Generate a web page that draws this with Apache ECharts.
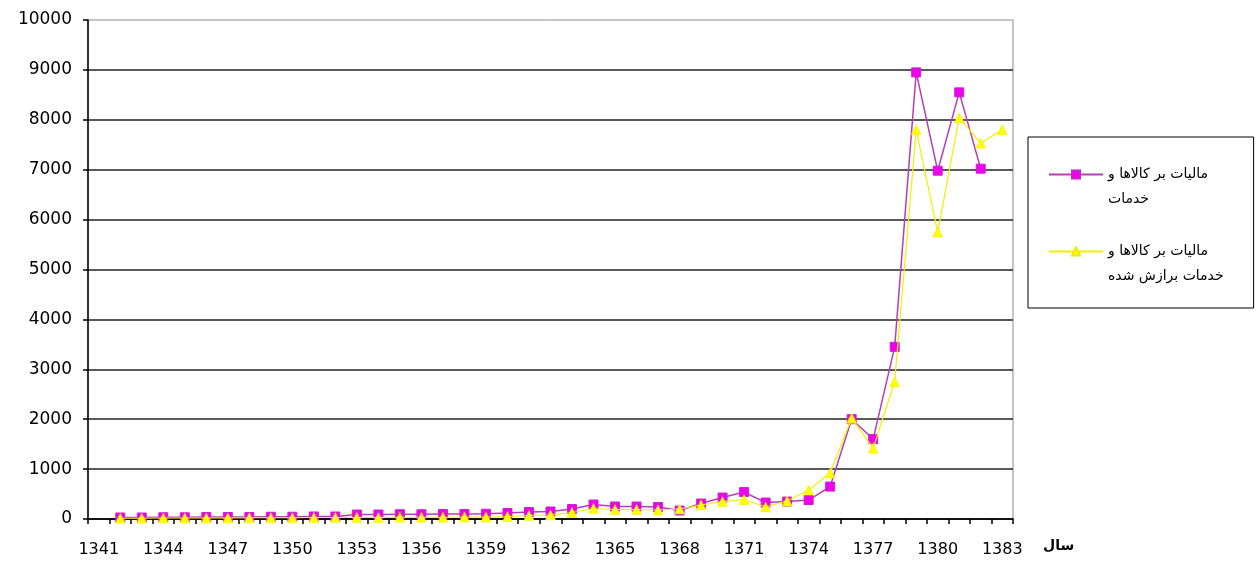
<!DOCTYPE html>
<html>
<head>
<meta charset="utf-8">
<script src="https://cdn.jsdelivr.net/npm/echarts@6/dist/echarts.min.js"></script>
<style>
  html, body { margin: 0; padding: 0; background: #fff; }
  #chart { width: 1257px; height: 561px; }
</style>
</head>
<body>
<div id="chart"></div>
<script>
// Years 1341–1383
const years = [];
for (let y = 1341; y <= 1383; y++) years.push(String(y));

const seriesNames = [
  'مالیات بر کالاها و خدمات',
  'مالیات بر کالاها و خدمات برازش شده'
];

// Goods and services tax (actual)
const taxActual = [
  null,
  30, 30, 35, 35, 40, 40, 40, 45, 45, 50, 50,
  90, 90, 95, 95, 100, 100, 105,
  120, 140, 150, 200, 290, 250, 250, 240, 170, 310,
  430, 540, 330, 350, 380, 650, 2000, 1600, 3450,
  8950, 6980, 8550, 7020, null
];

// Goods and services tax (fitted)
const taxFitted = [
  null,
  15, 15, 20, 20, 20, 20, 25, 25, 25, 30, 30,
  30, 30, 35, 35, 35, 40, 40,
  50, 70, 80, 130, 210, 190, 190, 180, 200, 280,
  350, 390, 240, 360, 580, 920, 2020, 1420, 2750,
  7800, 5750, 8040, 7530, 7800
];

const yTicks = { min: 0, max: 10000, interval: 1000 };

const chart = echarts.init(document.getElementById('chart'));

const legendFormatter = function (name) {
  // blank first line keeps the icon level with the first line of text
  if (name === seriesNames[0]) return '\nمالیات بر کالاها و\nخدمات';
  return '\nمالیات بر کالاها و\nخدمات برازش شده';
};

chart.setOption({
  animation: false,
  backgroundColor: '#ffffff',
  grid: {
    left: 88, right: 244, top: 20, bottom: 42,
    show: true, borderColor: '#8c8c8c', borderWidth: 1,
    backgroundColor: 'transparent'
  },
  legend: {
    orient: 'vertical',
    left: 1028, top: 137,
    padding: [0, 30, 19, 20],
    itemGap: 2,
    itemWidth: 54, itemHeight: 10,
    borderColor: '#000', borderWidth: 1,
    backgroundColor: '#fff',
    formatter: legendFormatter,
    textStyle: { fontFamily: 'DejaVu Sans', fontSize: 14, lineHeight: 25, color: '#000' },
    data: seriesNames
  },
  xAxis: {
    type: 'category',
    data: years,
    boundaryGap: true,
    name: 'سال',
    nameLocation: 'end',
    nameGap: 30,
    nameTextStyle: {
      fontFamily: 'DejaVu Sans', fontSize: 14, fontWeight: 'bold', color: '#000',
      verticalAlign: 'top', padding: [20, 0, 0, 0]
    },
    axisLine: { show: true, lineStyle: { color: '#000', width: 1.5 } },
    axisTick: { show: true, interval: 0, length: 5, lineStyle: { color: '#000', width: 1.5 } },
    axisLabel: {
      interval: 2, margin: 23,
      fontFamily: 'DejaVu Sans', fontSize: 16, color: '#000'
    },
    splitLine: { show: false }
  },
  yAxis: {
    type: 'value',
    min: yTicks.min, max: yTicks.max, interval: yTicks.interval,
    axisLine: { show: true, lineStyle: { color: '#000', width: 1.5 } },
    axisTick: { show: true, length: 5, lineStyle: { color: '#000', width: 1.5 } },
    axisLabel: {
      margin: 16, fontFamily: 'DejaVu Sans', fontSize: 17, color: '#000',
      formatter: function (v) { return String(v); }
    },
    splitLine: {
      show: true, showMaxLine: false,
      lineStyle: { color: '#222', width: 1.5 }
    }
  },
  series: [
    {
      name: seriesNames[0],
      type: 'line',
      data: taxActual,
      connectNulls: false,
      symbol: 'rect',
      symbolSize: 9,
      lineStyle: { color: '#b83cb8', width: 1.5 },
      itemStyle: { color: '#ee00ee', borderColor: '#cc22cc', borderWidth: 1 },
      z: 2
    },
    {
      name: seriesNames[1],
      type: 'line',
      data: taxFitted,
      connectNulls: false,
      symbol: 'triangle',
      symbolSize: 10,
      lineStyle: { color: '#f0f000', width: 1.2 },
      itemStyle: { color: '#ffff00', borderColor: '#f0e800', borderWidth: 0.5 },
      z: 3
    }
  ]
});
</script>
</body>
</html>
